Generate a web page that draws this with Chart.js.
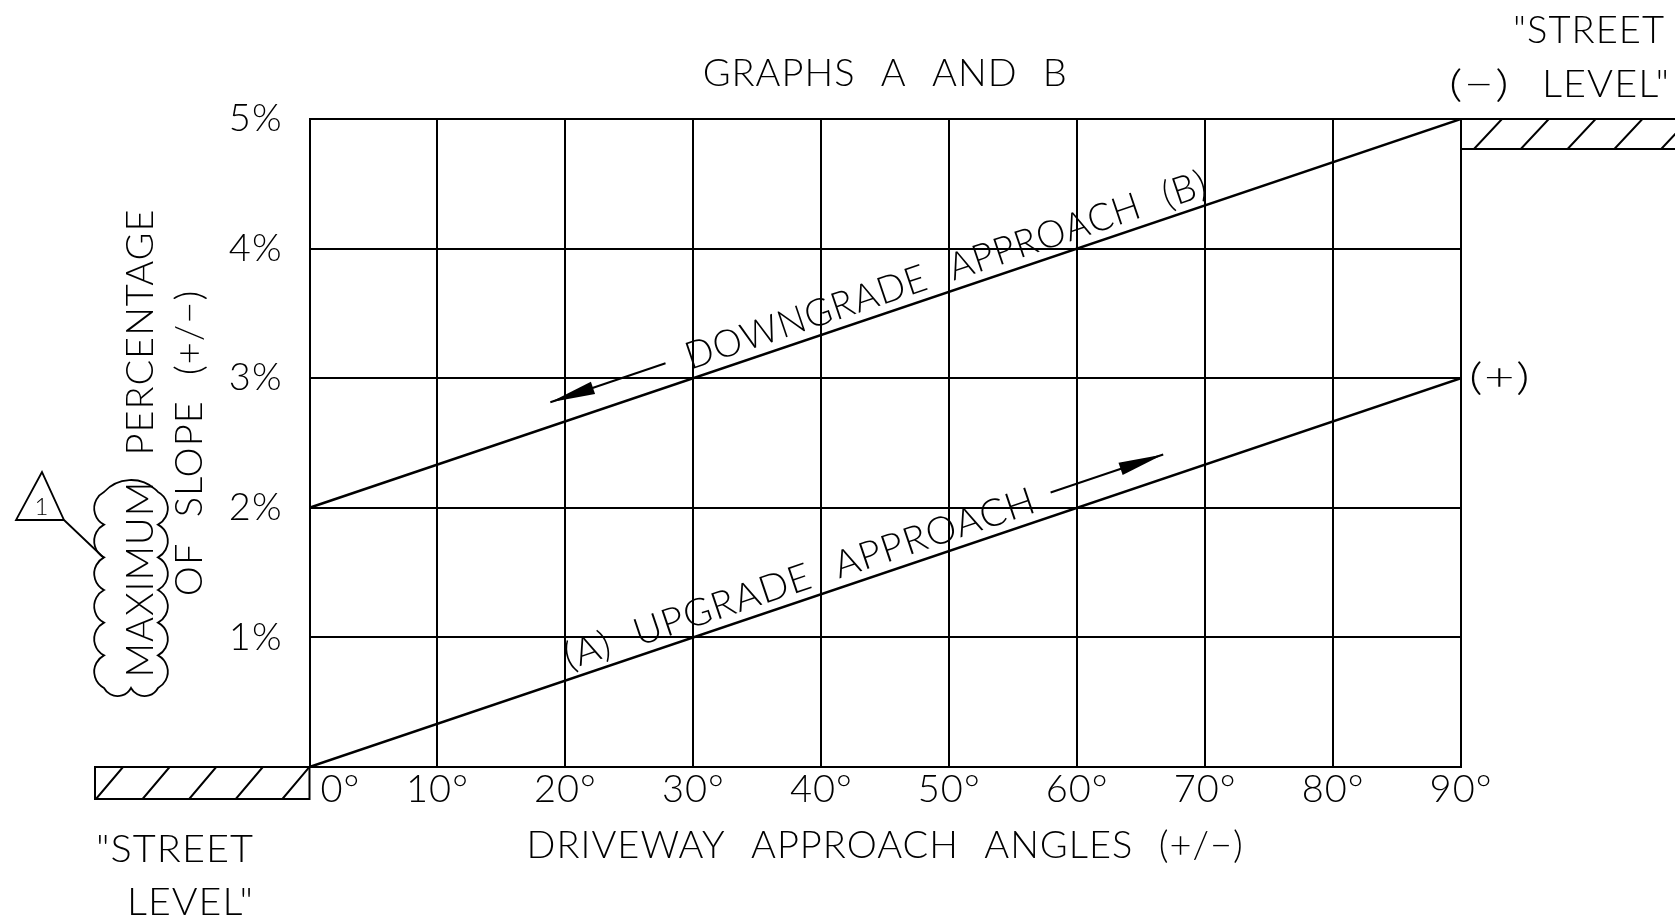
<!DOCTYPE html>
<html>
<head>
<meta charset="utf-8">
<title>Graphs A and B</title>
<script src="https://cdn.jsdelivr.net/npm/chart.js@4.4.1/dist/chart.umd.min.js"></script>
<style>
  html, body { margin: 0; padding: 0; background: #fff; }
  #wrap { width: 1675px; height: 919px; }
</style>
</head>
<body>
<div id="wrap"><canvas id="slopeChart" width="1675" height="919"></canvas></div>
<script>
// datos de la gráfica
const angleTicks = [0, 10, 20, 30, 40, 50, 60, 70, 80, 90];
const angleLabels = ['0°', '10°', '20°', '30°', '40°', '50°', '60°', '70°', '80°', '90°'];
const slopeLabels = ['', '1%', '2%', '3%', '4%', '5%'];
const lineAngles = [0, 90];
const upgradeSlope = [0, 3];    // (A)
const downgradeSlope = [2, 5];  // (B)

const FAMILY = 'Lato, "Open Sans", Roboto, sans-serif';
const WEIGHT = 300;
const FS = 38;
const baseFont = { family: FAMILY, size: FS, weight: WEIGHT, lineHeight: 1 };

// posicion sobre la recta dibujada (en pixeles) para un angulo dado
function pointOnLine(chart, dsIndex, xv) {
    const meta = chart.getDatasetMeta(dsIndex);
    const p0 = meta.data[0], p1 = meta.data[meta.data.length - 1];
    const xp = chart.scales.x.getPixelForValue(xv);
    const t = (xp - p0.x) / (p1.x - p0.x);
    return { x: xp, y: p0.y + t * (p1.y - p0.y), ang: Math.atan2(p1.y - p0.y, p1.x - p0.x) };
}

function fitText(ctx, text, x0, x1, y, size) {
    ctx.save();
    ctx.font = `${WEIGHT} ${size || FS}px ${FAMILY}`;
    ctx.textAlign = 'left';
    ctx.textBaseline = 'alphabetic';
    const w = ctx.measureText(text).width;
    ctx.translate(x0, y);
    ctx.scale((x1 - x0) / w, 1);
    ctx.fillText(text, 0, 0);
    ctx.restore();
}

function labelAlong(chart, dsIndex, text, xv0, xv1, offset) {
    const ctx = chart.ctx;
    const s = pointOnLine(chart, dsIndex, xv0);
    const e = pointOnLine(chart, dsIndex, xv1);
    const len = Math.hypot(e.x - s.x, e.y - s.y);
    ctx.save();
    ctx.font = `${WEIGHT} ${FS}px ${FAMILY}`;
    ctx.textAlign = 'left';
    ctx.textBaseline = 'alphabetic';
    const w = ctx.measureText(text).width;
    ctx.translate(s.x, s.y);
    ctx.rotate(s.ang);
    ctx.translate(0, -offset);
    ctx.scale(len / w, 1);
    ctx.fillText(text, 0, 0);
    ctx.restore();
}

function arrowAlong(chart, dsIndex, xvFrom, xvTo, offset) {
    const ctx = chart.ctx;
    const a = pointOnLine(chart, dsIndex, xvFrom);
    const b = pointOnLine(chart, dsIndex, xvTo);
    const nx = Math.sin(a.ang), ny = -Math.cos(a.ang);
    const x0 = a.x + nx * offset, y0 = a.y + ny * offset;
    const x1 = b.x + nx * offset, y1 = b.y + ny * offset;
    const dir = Math.atan2(y1 - y0, x1 - x0);
    ctx.save();
    ctx.lineWidth = 2;
    ctx.beginPath();
    ctx.moveTo(x0, y0);
    ctx.lineTo(x1, y1);
    ctx.stroke();
    ctx.translate(x1, y1);
    ctx.rotate(dir);
    ctx.beginPath();
    ctx.moveTo(0, 0);
    ctx.lineTo(-45, -6.5);
    ctx.lineTo(-45, 6.5);
    ctx.closePath();
    ctx.fill();
    ctx.restore();
}

function hatchBox(ctx, x0, y0, x1, y1, start, step, dx) {
    ctx.save();
    ctx.beginPath();
    ctx.rect(x0, y0, x1 - x0, y1 - y0);
    ctx.clip();
    ctx.beginPath();
    for (let bx = x0 + start; bx < x1 + 1; bx += step) {
        ctx.moveTo(bx, y1);
        ctx.lineTo(bx + dx, y0);
    }
    ctx.stroke();
    ctx.restore();
}

// nube de revision con arcos
function cloud(ctx, x0, y0, x1, y1) {
    const pts = [];
    const nTop = 1, nSide = 6, nBot = 2;
    for (let i = 0; i < nTop; i++) pts.push([x0 + (x1 - x0) * i / nTop, y0]);
    for (let i = 0; i < nSide; i++) pts.push([x1, y0 + (y1 - y0) * i / nSide]);
    for (let i = 0; i < nBot; i++) pts.push([x1 - (x1 - x0) * i / nBot, y1]);
    for (let i = 0; i < nSide; i++) pts.push([x0, y1 - (y1 - y0) * i / nSide]);
    ctx.beginPath();
    for (let i = 0; i < pts.length; i++) {
        const p = pts[i], q = pts[(i + 1) % pts.length];
        const c = Math.hypot(q[0] - p[0], q[1] - p[1]);
        const h = Math.min(c * 0.3, 12);
        const R = (c * c / 4 + h * h) / (2 * h);
        const mx = (p[0] + q[0]) / 2, my = (p[1] + q[1]) / 2;
        const ux = (q[0] - p[0]) / c, uy = (q[1] - p[1]) / c;
        // normal hacia adentro (recorrido en sentido horario)
        const inx = -uy, iny = ux;
        const cx = mx + inx * (R - h), cy = my + iny * (R - h);
        const phi = Math.asin(Math.min(1, (c / 2) / R));
        const th = Math.atan2(p[1] - cy, p[0] - cx);
        ctx.arc(cx, cy, R, th, th + 2 * phi, false);
    }
    ctx.closePath();
    ctx.stroke();
}

// espaciado tipo letra de CAD (mas aire entre palabras)
const cadSpacing = {
    id: 'cadSpacing',
    beforeDraw(chart) {
        chart.ctx.letterSpacing = '1px';
        chart.ctx.wordSpacing = '14px';
    }
};

const drawingExtras = {
    id: 'drawingExtras',
    afterDraw(chart) {
        const { ctx, chartArea: a, scales: { x, y } } = chart;
        ctx.save();
        ctx.fillStyle = '#000';
        ctx.strokeStyle = '#000';
        ctx.lineWidth = 2;

        // etiquetas del eje X
        ctx.font = `${WEIGHT} ${FS}px ${FAMILY}`;
        ctx.textBaseline = 'alphabetic';
        angleTicks.forEach((v, i) => {
            const px = x.getPixelForValue(v);
            if (i === 0) {
                ctx.textAlign = 'left';
                ctx.fillText(angleLabels[i], px + 11, a.bottom + 35);
            } else {
                ctx.textAlign = 'center';
                ctx.fillText(angleLabels[i], px, a.bottom + 35);
            }
        });

        // nivel de calle abajo a la izquierda
        ctx.strokeRect(95, a.bottom, a.left - 95, 32);
        hatchBox(ctx, 95, a.bottom, a.left, a.bottom + 32, 1, 46.6, 27);
        fitText(ctx, '"STREET', 96, 254, a.bottom + 95);
        fitText(ctx, 'LEVEL"', 127, 254, a.bottom + 148);

        // nivel de calle arriba a la derecha
        const W = chart.width;
        ctx.beginPath();
        ctx.moveTo(a.right, a.top);
        ctx.lineTo(W, a.top);
        ctx.moveTo(a.right, a.top + 30);
        ctx.lineTo(W, a.top + 30);
        ctx.stroke();
        hatchBox(ctx, a.right, a.top, W, a.top + 30, 13, 46.8, 28);
        fitText(ctx, '"STREET', 1513, 1665, 43);
        fitText(ctx, '(−)', 1449, 1510, 97);
        fitText(ctx, 'LEVEL"', 1542, 1670, 97);

        // (+) en el final de la recta A
        const endA = pointOnLine(chart, 0, lineAngles[1]);
        fitText(ctx, '(+)', endA.x + 8, endA.x + 70, endA.y + 12);

        // textos sobre las rectas
        labelAlong(chart, 0, '(A) UPGRADE APPROACH', 20.5, 57.2, 9);
        labelAlong(chart, 1, 'DOWNGRADE APPROACH (B)', 30.0, 70.6, 9);
        arrowAlong(chart, 0, 58.5, 67.3, 23);
        arrowAlong(chart, 1, 28.4, 19.4, 23);

        // nube + triangulo de revision
        ctx.lineWidth = 1.8;
        cloud(ctx, 104, 492, 158, 688);
        ctx.beginPath();
        ctx.moveTo(42, 472);
        ctx.lineTo(16, 520);
        ctx.lineTo(64, 520);
        ctx.closePath();
        ctx.moveTo(64, 520);
        ctx.lineTo(104, 558);
        ctx.stroke();
        ctx.font = `${WEIGHT} 24px ${FAMILY}`;
        ctx.textAlign = 'center';
        ctx.fillText('1', 42, 515);

        ctx.restore();
    }
};

const ctx = document.getElementById('slopeChart');
new Chart(ctx, {
    type: 'line',
    data: {
        datasets: [
            {
                label: '(A) UPGRADE APPROACH',
                data: lineAngles.map((v, i) => ({ x: v, y: upgradeSlope[i] })),
                borderColor: '#000',
                borderWidth: 2.5,
                pointRadius: 0,
                tension: 0,
                fill: false
            },
            {
                label: 'DOWNGRADE APPROACH (B)',
                data: lineAngles.map((v, i) => ({ x: v, y: downgradeSlope[i] })),
                borderColor: '#000',
                borderWidth: 2.5,
                pointRadius: 0,
                tension: 0,
                fill: false
            }
        ]
    },
    options: {
        responsive: false,
        animation: false,
        devicePixelRatio: 1,
        events: [],
        layout: { padding: { left: 0, right: 214, top: 0, bottom: 0 } },
        plugins: {
            legend: { display: false },
            tooltip: { enabled: false },
            title: {
                display: true,
                text: 'GRAPHS A AND B',
                color: '#000',
                fullSize: false,
                font: baseFont,
                padding: { top: 55, bottom: 26 }
            }
        },
        scales: {
            x: {
                type: 'linear',
                min: 0,
                max: 90,
                afterFit: s => { s.height = 152; },
                ticks: { stepSize: 10, color: 'rgba(0,0,0,0)', font: baseFont, callback: v => angleLabels[angleTicks.indexOf(v)] },
                grid: { color: '#000', lineWidth: 2, drawTicks: false },
                border: { color: '#000', width: 2 },
                title: {
                    display: true,
                    text: 'DRIVEWAY APPROACH ANGLES (+/−)',
                    color: '#000',
                    font: baseFont,
                    padding: { top: 0, bottom: 54 }
                }
            },
            y: {
                min: 0,
                max: 5,
                afterFit: s => { s.width = 309.5; },
                ticks: { stepSize: 1, padding: 27, color: '#000', font: baseFont, callback: v => slopeLabels[v] },
                grid: { color: '#000', lineWidth: 2, drawTicks: false },
                border: { color: '#000', width: 2 },
                title: {
                    display: true,
                    text: ['MAXIMUM PERCENTAGE', 'OF SLOPE (+/−)'],
                    color: '#000',
                    font: { family: FAMILY, size: FS, weight: WEIGHT, lineHeight: 49 / FS },
                    padding: { top: 116, bottom: 0 }
                }
            }
        }
    },
    plugins: [cadSpacing, drawingExtras]
});
</script>
</body>
</html>
